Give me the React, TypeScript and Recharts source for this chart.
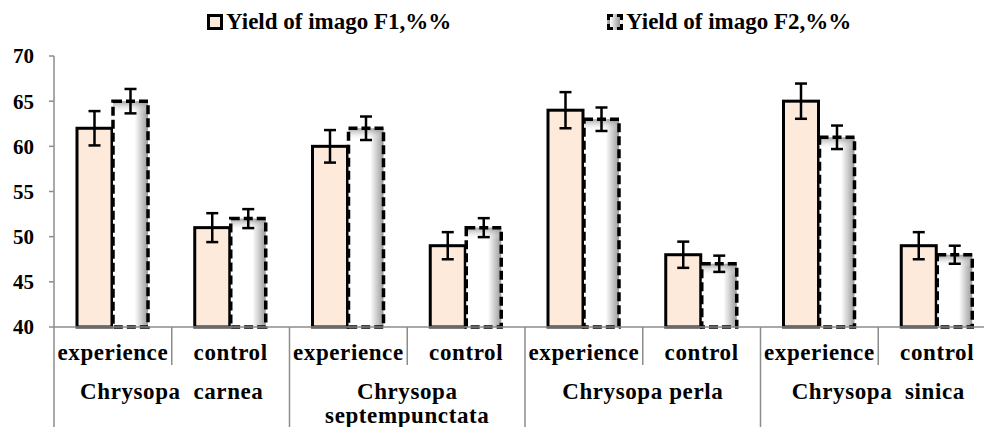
import { Bar, BarChart, ErrorBar, XAxis, YAxis } from "recharts";

const categories = [
  "experience",
  "control",
  "experience",
  "control",
  "experience",
  "control",
  "experience",
  "control"
];
const species: string[][] = [
  ["Chrysopa  carnea"],
  ["Chrysopa", "septempunctata"],
  ["Chrysopa perla"],
  ["Chrysopa  sinica"]
];
const yieldF1 = [62, 51, 60, 49, 64, 48, 65, 49];
const yieldF2 = [65, 52, 62, 51, 63, 47, 61, 48];
const errF1 = [1.9, 1.6, 1.8, 1.5, 2.0, 1.45, 1.95, 1.5];
const errF2 = [1.35, 1.05, 1.3, 1.05, 1.3, 0.9, 1.3, 1.0];
const yTicks = [40, 45, 50, 55, 60, 65, 70];

const data = categories.map((label, i) => ({
  label,
  f1: yieldF1[i],
  f2: yieldF2[i],
  f1Err: errF1[i],
  f2Err: errF2[i]
}));

const GRAY = "#8c8c8c";
const FONT = "Liberation Serif, Tinos, Times New Roman, DejaVu Serif, serif";
const CHART_W = 1000;
const Y_W = 54;
const RIGHT = 4;
const HALF_BAND = (CHART_W - Y_W - RIGHT) / categories.length / 2;

function F1Shape(props: any) {
  const { x, y, width, height } = props;
  return (
    <rect
      x={x}
      y={y}
      width={width}
      height={height}
      fill="#fdeada"
      stroke="#000"
      strokeWidth={3}
    />
  );
}

function F2Shape(props: any) {
  const { x, y, width, height } = props;
  return (
    <g>
      <rect x={x} y={y} width={width} height={height} fill="url(#f2Side)" />
      <rect x={x} y={y} width={width} height={Math.min(12, height)} fill="url(#f2Top)" />
      <rect
        x={x}
        y={y}
        width={width}
        height={height}
        fill="none"
        stroke="#000"
        strokeWidth={3.5}
        strokeDasharray="9 4"
      />
    </g>
  );
}

function CategoryTick(props: any) {
  const { x, y, payload } = props;
  const i: number = payload.index;
  const half: number = payload.offset || HALF_BAND;
  const even = i % 2 === 0;
  const lines = species[Math.floor(i / 2)];
  return (
    <g style={{ fontFamily: FONT, fontWeight: "bold" }} fill="#000">
      <text x={x} y={y + 33} textAnchor="middle" fontSize={23} letterSpacing={0.6}>
        {payload.value}
      </text>
      {i === 0 ? (
        <line x1={x - half} y1={y} x2={x - half} y2={y + 100} stroke={GRAY} strokeWidth={1.5} />
      ) : null}
      <line
        x1={x + half}
        y1={y}
        x2={x + half}
        y2={y + (even ? 38 : 100)}
        stroke={GRAY}
        strokeWidth={1.5}
      />
      {!even
        ? lines.map((t, k) => (
            <text
              key={k}
              x={x - half}
              y={y + 72 + k * 24}
              textAnchor="middle"
              fontSize={23}
              letterSpacing={0.6}
              style={{ whiteSpace: "pre" }}
            >
              {t}
            </text>
          ))
        : null}
    </g>
  );
}

function LegendItem({ dashed, label }: { dashed?: boolean; label: string }) {
  return (
    <div style={{ display: "flex", alignItems: "center" }}>
      <div
        style={{
          width: 10,
          height: 10,
          border: dashed ? "3px dashed #000" : "3px solid #000",
          background: dashed ? "linear-gradient(90deg,#fff,#999)" : "#fdeada",
          marginRight: 3
        }}
      />
      <span
        style={{
          fontFamily: FONT,
          fontWeight: "bold",
          fontSize: 23,
          lineHeight: "23px"
        }}
      >
        {label}
      </span>
    </div>
  );
}

export default function App() {
  return (
    <div style={{ position: "relative", width: 984, height: 427, overflow: "hidden", background: "#fff" }}>
      <style>{"body{margin:0;overflow:hidden}"}</style>
      <svg width={0} height={0} style={{ position: "absolute" }}>
        <defs>
          <linearGradient id="f2Side" x1="0" y1="0" x2="1" y2="0">
            <stop offset="0%" stopColor="#ffffff" />
            <stop offset="62%" stopColor="#ffffff" />
            <stop offset="100%" stopColor="#9a9a9a" />
          </linearGradient>
          <linearGradient id="f2Top" x1="0" y1="0" x2="0" y2="1">
            <stop offset="0%" stopColor="#8a8a8a" stopOpacity={0.8} />
            <stop offset="100%" stopColor="#ffffff" stopOpacity={0} />
          </linearGradient>
        </defs>
      </svg>
      <div style={{ position: "absolute", left: 207, top: 10 }}>
        <LegendItem label="Yield of imago F1,%%" />
      </div>
      <div style={{ position: "absolute", left: 607, top: 10 }}>
        <LegendItem dashed label="Yield of imago F2,%%" />
      </div>
      <BarChart
        width={CHART_W}
        height={427}
        data={data}
        margin={{ top: 56, right: RIGHT, left: 0, bottom: 0 }}
        barGap={1}
        barSize={35}
      >
        <XAxis
          dataKey="label"
          height={100}
          interval={0}
          tickLine={false}
          tickSize={0}
          tickMargin={0}
          axisLine={{ stroke: GRAY, strokeWidth: 1.5 }}
          tick={<CategoryTick />}
        />
        <YAxis
          width={Y_W}
          domain={[40, 70]}
          ticks={yTicks}
          interval={0}
          tickSize={5}
          tickMargin={15}
          axisLine={{ stroke: GRAY, strokeWidth: 1.5 }}
          tickLine={{ stroke: GRAY, strokeWidth: 1.5 }}
          tick={{ fill: "#000", fontSize: 21, fontWeight: "bold", fontFamily: FONT }}
        />
        <Bar dataKey="f1" shape={<F1Shape />} isAnimationActive={false}>
          <ErrorBar dataKey="f1Err" width={6} stroke="#000" strokeWidth={2.5} />
        </Bar>
        <Bar dataKey="f2" shape={<F2Shape />} isAnimationActive={false}>
          <ErrorBar dataKey="f2Err" width={6} stroke="#000" strokeWidth={2.5} />
        </Bar>
      </BarChart>
    </div>
  );
}
